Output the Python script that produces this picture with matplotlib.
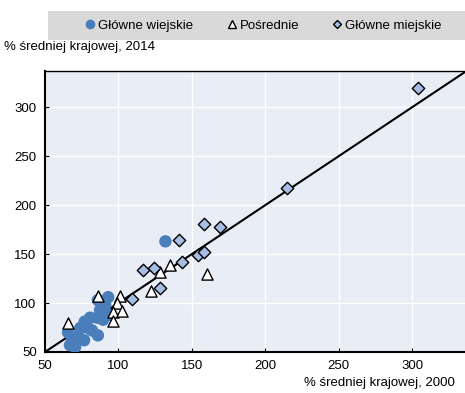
import matplotlib.pyplot as plt
from matplotlib.patches import Rectangle
from matplotlib.lines import Line2D

plt.rcParams['font.family'] = ['Liberation Sans', 'DejaVu Sans']

# Główne wiejskie (x = 2000, y = 2014)
rural_x = [93, 91, 87.5, 85.5, 89.6, 80.7, 77, 74, 79.3, 72.5, 68.4, 67, 70.5, 65.7,
           70.5, 86, 82, 94.3, 86, 76.6, 132]
rural_y = [106, 98, 93, 85, 83, 85, 81, 74.5, 74.5, 67, 64, 57, 55, 70,
           62, 67, 72, 88, 103, 62, 163]

# Pośrednie
mid_x = [86, 101, 99, 96, 102.5, 96, 66, 122, 128, 135, 160]
mid_y = [107, 107, 100, 91, 92, 82, 80, 112, 132, 139, 130]

# Główne miejskie
urban_x = [304, 215, 141, 158, 169, 154, 158, 143, 124, 117, 128, 109]
urban_y = [320, 218, 164, 181, 178, 149, 152, 142, 136, 134, 115, 104]

blue = '#4A7EBB'
light_blue = '#A7BDE4'

fig = plt.figure(figsize=(4.65, 3.93), dpi=100)
ax = fig.add_axes([45 / 465, 41 / 393, 420 / 465, 281 / 393])
ax.set_facecolor('#E9EDF6')

ax.plot([50, 340], [50, 340], color='black', lw=1.5, zorder=2)
ax.scatter(rural_x, rural_y, s=80, color=blue, edgecolors='none', zorder=3)
ax.scatter(mid_x, mid_y, s=65, marker='^', facecolor='white', edgecolors='black', lw=1, zorder=4)
ax.scatter(urban_x, urban_y, s=40, marker='D', facecolor=light_blue, edgecolors='black', lw=1, zorder=4)

ax.set_xlim(50, 336)
ax.set_ylim(50, 337)
ax.set_xticks([50, 100, 150, 200, 250, 300])
ax.set_yticks([50, 100, 150, 200, 250, 300])
ax.grid(color='white', lw=1.0)
ax.set_axisbelow(True)
ax.tick_params(direction='in', length=3, width=0.8, labelsize=9.5, colors='black', pad=6)
for side in ['left', 'bottom']:
    ax.spines[side].set_linewidth(1.5)
ax.spines['top'].set_linewidth(1.0)
ax.spines['right'].set_visible(False)

fig.text(4 / 465, 1 - 47 / 393, '% średniej krajowej, 2014', fontsize=9.5, va='center', ha='left')
fig.text(455 / 465, 1 - 383 / 393, '% średniej krajowej, 2000', fontsize=9.5, va='center', ha='right')

# legend band
fig.patches.append(Rectangle((48 / 465, 1 - 40 / 393), 417 / 465, 29 / 393,
                             transform=fig.transFigure, facecolor='#D9D9D9', edgecolor='none'))
handles = [
    Line2D([], [], ls='', marker='o', ms=7, color=blue, markeredgecolor='none'),
    Line2D([], [], ls='', marker='^', ms=6, markerfacecolor='white', markeredgecolor='black'),
    Line2D([], [], ls='', marker='D', ms=4.5, markerfacecolor=light_blue, markeredgecolor='black'),
]
fig.legend(handles, ['Główne wiejskie', 'Pośrednie', 'Główne miejskie'], ncol=3,
           loc='center', bbox_to_anchor=(264 / 465, 1 - 25.5 / 393), frameon=False,
           fontsize=9.5, handlelength=0.6, handletextpad=0.3, columnspacing=2.6)

fig.savefig('out.png', dpi=100)
